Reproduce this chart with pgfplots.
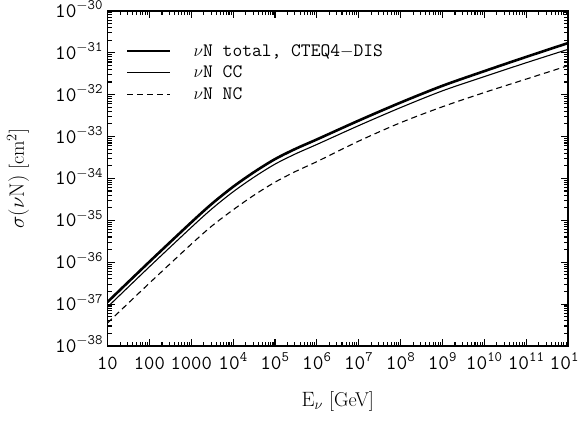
\documentclass[border=0pt]{standalone}
\usepackage{pgfplots}
\pgfplotsset{compat=1.18}
\begin{document}
\begin{tikzpicture}
\begin{axis}[
  scale only axis, width=460.5pt, height=335.2pt,
  xmode=log, ymode=log,
  xmin=10, xmax=1e12, ymin=1e-38, ymax=1e-30,
  xtick={1e1,1e2,1e3,1e4,1e5,1e6,1e7,1e8,1e9,1e10,1e11,1e12},
  xticklabels={{\texttt{10}},{\texttt{100}},{\texttt{1000}},
    {$\mathtt{10}^{\mathtt{4}}$},{$\mathtt{10}^{\mathtt{5}}$},{$\mathtt{10}^{\mathtt{6}}$},
    {$\mathtt{10}^{\mathtt{7}}$},{$\mathtt{10}^{\mathtt{8}}$},{$\mathtt{10}^{\mathtt{9}}$},
    {$\mathtt{10}^{\mathtt{10}}$},{$\mathtt{10}^{\mathtt{11}}$},{$\mathtt{10}^{\mathtt{12}}$}},
  ytick={1e-38,1e-37,1e-36,1e-35,1e-34,1e-33,1e-32,1e-31,1e-30},
  yticklabels={{$\mathtt{10}^{\mathtt{-38}}$},{$\mathtt{10}^{\mathtt{-37}}$},{$\mathtt{10}^{\mathtt{-36}}$},
    {$\mathtt{10}^{\mathtt{-35}}$},{$\mathtt{10}^{\mathtt{-34}}$},{$\mathtt{10}^{\mathtt{-33}}$},
    {$\mathtt{10}^{\mathtt{-32}}$},{$\mathtt{10}^{\mathtt{-31}}$},{$\mathtt{10}^{\mathtt{-30}}$}},
  xticklabel style={font=\fontsize{20}{22}\selectfont, anchor=base, yshift=-23pt},
  yticklabel style={font=\fontsize{20}{22}\selectfont, anchor=base east, yshift=-6.5pt, xshift=-1pt},
  major tick length=7.5pt, minor tick length=4pt,
  tick style={line width=1.1pt, black},
  axis line style={line width=1.5pt},
  xlabel={$\mathrm{E}_\nu$ [GeV]},
  ylabel={$\sigma(\nu\mathrm{N})$ [cm$^2$]},
  label style={font=\fontsize{20}{22}\selectfont},
  xlabel style={at={(axis description cs:0.5,-0.165)}, anchor=center},
  ylabel style={at={(axis description cs:-0.194,0.5)}, anchor=center},
  legend style={draw=none, fill=none, at={(axis description cs:0.040,0.8153)}, anchor=west,
    font=\ttfamily\fontsize{19}{21}\selectfont, row sep=3.7pt, inner sep=0pt,
    nodes={inner ysep=0pt, inner xsep=0pt, text height=14pt, text depth=4pt}},
  legend cell align=left,
  legend image code/.code={\draw[#1] (0pt,0pt) -- (43pt,0pt); \path (65pt,0pt);},
]
\addplot[black, line width=2.6pt, smooth] coordinates {
 (1e1,1.122e-37) (1e2,1.023e-36) (1e3,8.913e-36) (3.162e3,2.512e-35) (1e4,6.310e-35)
 (3.162e4,1.413e-34) (1e5,2.884e-34) (3.162e5,5.129e-34) (1e6,8.511e-34) (1e7,2.399e-33)
 (1e8,6.457e-33) (1e9,1.622e-32) (1e10,3.631e-32) (1e11,7.943e-32) (1e12,1.698e-31)};
\addlegendentry{$\nu$N total, CTEQ4$-$DIS}
\addplot[black, line width=1.1pt, smooth] coordinates {
 (1e1,8.511e-38) (1e2,7.762e-37) (1e3,6.761e-36) (3.162e3,1.905e-35) (1e4,4.786e-35)
 (3.162e4,1.072e-34) (1e5,2.188e-34) (3.162e5,3.890e-34) (1e6,6.457e-34) (1e7,1.820e-33)
 (1e8,4.898e-33) (1e9,1.230e-32) (1e10,2.692e-32) (1e11,5.754e-32) (1e12,1.202e-31)};
\addlegendentry{$\nu$N CC}
\addplot[black, line width=1.1pt, dash pattern=on 6pt off 4pt, smooth] coordinates {
 (1e1,3.548e-38) (1e2,3.162e-37) (1e3,2.692e-36) (3.162e3,7.413e-36) (1e4,1.778e-35)
 (3.162e4,3.981e-35) (1e5,8.128e-35) (3.162e5,1.479e-34) (1e6,2.512e-34) (1e7,7.762e-34)
 (1e8,2.138e-33) (1e9,5.129e-33) (1e10,1.122e-32) (1e11,2.344e-32) (1e12,4.898e-32)};
\addlegendentry{$\nu$N NC}
\coordinate (bbsw) at (rel axis cs:0,0);
\coordinate (bbne) at (rel axis cs:1,1);
\end{axis}
\pgfresetboundingbox
\useasboundingbox ([shift={(-107.5pt,-76pt)}]bbsw) rectangle ([shift={(10pt,10.8pt)}]bbne);
\end{tikzpicture}
\end{document}
